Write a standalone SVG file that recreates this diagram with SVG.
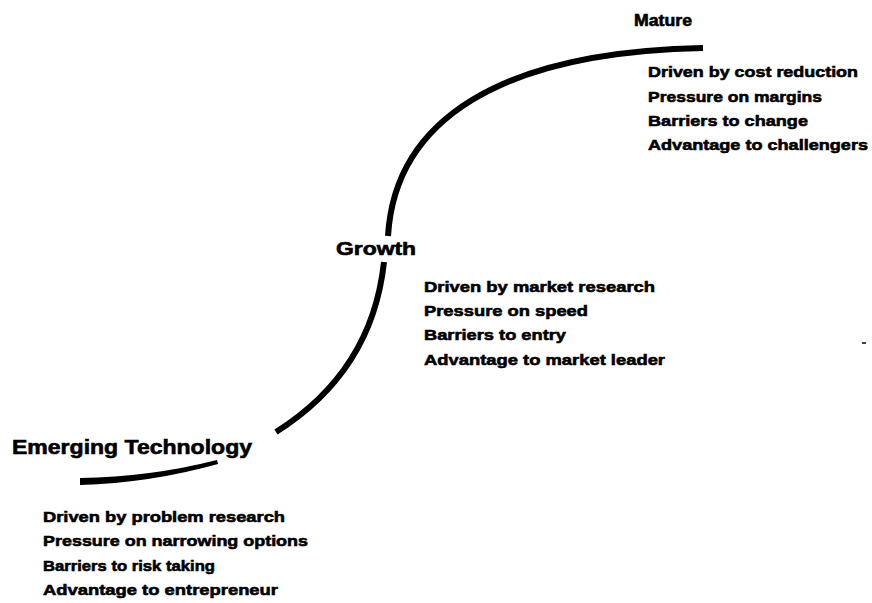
<svg xmlns="http://www.w3.org/2000/svg" width="872" height="603" viewBox="0 0 872 603">
<style>
.t{font-family:"Liberation Sans",Arial,sans-serif;font-weight:bold;fill:#000;stroke:#000;stroke-width:0.6}
.h{font-size:20px}
.s{font-size:15.5px}
.c{fill:none;stroke:#000;stroke-width:6}
</style>
<rect width="872" height="603" fill="#fff"/>
<g id="connectors">
<path d="M80,478 Q150,477 217,460 L218,464 Q150,483 80,485 Z" fill="#000"/>
<path class="c" d="M276,432 C330,398 375,345 384,262"/>
<path class="c" d="M388,236 C395,120 500,52 703,48"/>
<path d="M862,343 L866,343" stroke="#000" stroke-width="1.5"/>
</g>
<g id="emerging">
<text class="t h" x="12" y="454" textLength="240" lengthAdjust="spacingAndGlyphs">Emerging Technology</text>
<text class="t s" x="43" y="522" textLength="242" lengthAdjust="spacingAndGlyphs">Driven by problem research</text>
<text class="t s" x="43" y="546" textLength="265" lengthAdjust="spacingAndGlyphs">Pressure on narrowing options</text>
<text class="t s" x="43" y="571" textLength="172" lengthAdjust="spacingAndGlyphs">Barriers to risk taking</text>
<text class="t s" x="43" y="595" textLength="235" lengthAdjust="spacingAndGlyphs">Advantage to entrepreneur</text>
</g>
<g id="growth">
<text class="t" x="336" y="255" font-size="18" textLength="80" lengthAdjust="spacingAndGlyphs">Growth</text>
<text class="t s" x="424" y="292" textLength="231" lengthAdjust="spacingAndGlyphs">Driven by market research</text>
<text class="t s" x="424" y="316" textLength="164" lengthAdjust="spacingAndGlyphs">Pressure on speed</text>
<text class="t s" x="424" y="340" textLength="142" lengthAdjust="spacingAndGlyphs">Barriers to entry</text>
<text class="t s" x="424" y="365" textLength="241" lengthAdjust="spacingAndGlyphs">Advantage to market leader</text>
</g>
<g id="mature">
<text class="t" x="634" y="26" font-size="16" textLength="58" lengthAdjust="spacingAndGlyphs">Mature</text>
<text class="t s" x="648" y="77" textLength="210" lengthAdjust="spacingAndGlyphs">Driven by cost reduction</text>
<text class="t s" x="648" y="102" textLength="174" lengthAdjust="spacingAndGlyphs">Pressure on margins</text>
<text class="t s" x="648" y="126" textLength="160" lengthAdjust="spacingAndGlyphs">Barriers to change</text>
<text class="t s" x="648" y="150" textLength="220" lengthAdjust="spacingAndGlyphs">Advantage to challengers</text>
</g>
</svg>
